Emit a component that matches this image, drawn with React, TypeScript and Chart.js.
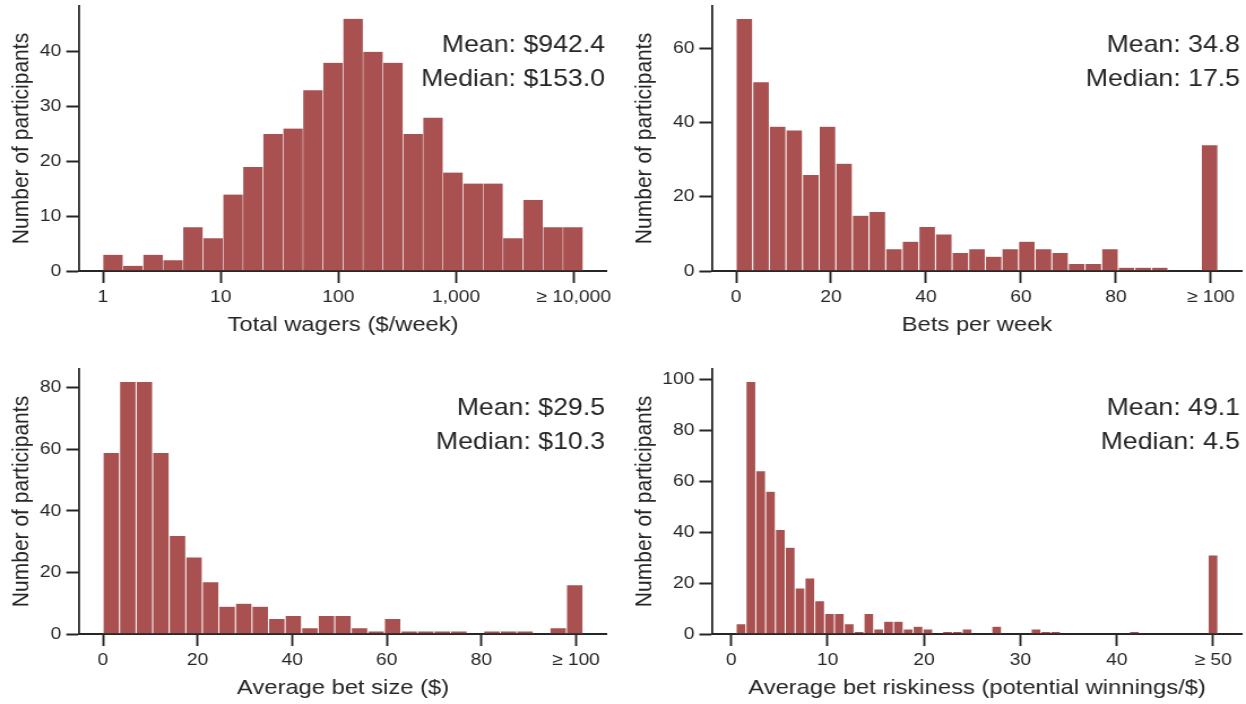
import React, { useEffect, useRef } from 'react';
import { Chart, registerables } from 'chart.js';

Chart.register(...registerables);

// ---------- data ----------
// Panel A: total wagers, bins in log10($/week)
const wagerCounts = [3, 1, 3, 2, 8, 6, 14, 19, 25, 26, 33, 38, 46, 40, 38, 25, 28, 18, 16, 16, 6, 13, 8, 8];
const wagerBinRange = [0, 4.0792];
const wagerXTicks = [0, 1, 2, 3, 4];
const wagerXLabels = ['1', '10', '100', '1,000', '≥ 10,000'];
const wagerYTicks = [0, 10, 20, 30, 40];

// Panel B: bets per week
const betsCounts = [68, 51, 39, 38, 26, 39, 29, 15, 16, 6, 8, 12, 10, 5, 6, 4, 6, 8, 6, 5, 2, 2, 6, 1, 1, 1, 0, 0, 34];
const betsBinRange = [0, 101.5];
const betsXTicks = [0, 20, 40, 60, 80, 100];
const betsXLabels = ['0', '20', '40', '60', '80', '≥ 100'];
const betsYTicks = [0, 20, 40, 60];

// Panel C: average bet size ($)
const sizeCounts = [59, 82, 82, 59, 32, 25, 17, 9, 10, 9, 5, 6, 2, 6, 6, 2, 1, 5, 1, 1, 1, 1, 0, 1, 1, 1, 0, 2, 16];
const sizeBinRange = [0, 101.5];
const sizeXTicks = [0, 20, 40, 60, 80, 100];
const sizeXLabels = ['0', '20', '40', '60', '80', '≥ 100'];
const sizeYTicks = [0, 20, 40, 60, 80];

// Panel D: average bet riskiness
const riskCounts = [4, 99, 64, 56, 41, 34, 18, 22, 13, 8, 8, 4, 1, 8, 2, 5, 5, 2, 3, 2, 0, 1, 1, 2, 0, 0, 3, 0, 0, 0, 2, 1, 1, 0, 0, 0, 0, 0, 0, 0, 1, 0, 0, 0, 0, 0, 0, 0, 31];
const riskBinRange = [0.5, 50.5];
const riskXTicks = [0, 10, 20, 30, 40, 50];
const riskXLabels = ['0', '10', '20', '30', '40', '≥ 50'];
const riskYTicks = [0, 20, 40, 60, 80, 100];

const statLines = {
  wager: ['Mean: $942.4', 'Median: $153.0'],
  bets: ['Mean: 34.8', 'Median: 17.5'],
  size: ['Mean: $29.5', 'Median: $10.3'],
  risk: ['Mean: 49.1', 'Median: 4.5'],
};

// ---------- style ----------
const STRETCH = 1.13;
const BAR = 'rgb(168, 81, 80)';
const INK = '#262626';
const FONT = '"Liberation Sans", Arial, Helvetica, sans-serif';
const TICK_SIZE = 17;
const TITLE_SIZE = 21;
const ANN_SIZE = 23.6;

type PanelProps = {
  counts: number[];
  binRange: number[];
  xTicks: number[];
  xLabels: string[];
  yTicks: number[];
  xTitle: string;
  lines: string[];
  box: { L: number; T: number; W: number; H: number };
  area: { left: number; right: number; top: number; bottom: number };
  titleMid: number;
  edge: number;
};

function Panel(p: PanelProps) {
  const ref = useRef<HTMLCanvasElement | null>(null);
  const cw = Math.round(p.box.W / STRETCH);
  const sx = p.box.W / cw;

  useEffect(() => {
    const canvas = ref.current;
    if (!canvas) return;
    const n = p.counts.length;
    const w = (p.binRange[1] - p.binRange[0]) / n;
    const span = p.binRange[1] - p.binRange[0];
    const xMin = p.binRange[0] - 0.05 * span;
    const xMax = p.binRange[1] + 0.05 * span;
    const yMax = 1.05 * Math.max(...p.counts);
    const data = p.counts.map((c, i) => ({ x: p.binRange[0] + (i + 0.5) * w, y: c }));

    const yW = (p.area.left - p.box.L) / sx;
    const xH = p.box.T + p.box.H - p.area.bottom;
    const padTop = p.area.top - p.box.T;
    const padRight = (p.box.L + p.box.W - p.area.right) / sx;
    const xTitlePad = p.box.T + p.box.H - p.titleMid - (TITLE_SIZE * 1.2) / 2;

    const annot = {
      id: 'annot',
      afterDraw(chart: any) {
        const { ctx, chartArea } = chart;
        ctx.save();
        ctx.font = `${ANN_SIZE}px ${FONT}`;
        ctx.fillStyle = INK;
        ctx.textAlign = 'right';
        ctx.textBaseline = 'alphabetic';
        const x = chartArea.right - 2 / sx;
        ctx.fillText(p.lines[0], x, chartArea.top + 45.5);
        ctx.fillText(p.lines[1], x, chartArea.top + 80);
        ctx.restore();
      },
    };

    const chart = new Chart(canvas, {
      type: 'bar',
      data: {
        datasets: [
          {
            data: data as any,
            backgroundColor: BAR,
            borderColor: '#ffffff',
            borderWidth: p.edge,
            borderSkipped: 'start',
            barPercentage: 1,
            categoryPercentage: 1,
            inflateAmount: 0,
          } as any,
        ],
      },
      options: {
        animation: false,
        responsive: false,
        maintainAspectRatio: false,
        devicePixelRatio: 1,
        events: [],
        layout: { padding: { left: 0, top: padTop, right: padRight, bottom: 0 } },
        plugins: { legend: { display: false }, tooltip: { enabled: false } },
        scales: {
          x: {
            type: 'linear',
            offset: false,
            min: xMin,
            max: xMax,
            afterBuildTicks: (scale: any) => {
              scale.ticks = p.xTicks.map((v) => ({ value: v }));
            },
            afterFit: (scale: any) => {
              scale.height = xH;
              scale.paddingLeft = 0;
              scale.paddingRight = 0;
            },
            ticks: {
              autoSkip: false,
              maxRotation: 0,
              minRotation: 0,
              padding: 4,
              color: INK,
              font: { family: FONT, size: TICK_SIZE },
              callback: (_v: any, i: number) => p.xLabels[i],
            },
            grid: {
              display: true,
              offset: false,
              drawOnChartArea: false,
              drawTicks: true,
              tickLength: 12,
              tickWidth: 1.9,
              tickColor: INK,
            },
            border: { display: true, color: INK, width: 2 },
            title: {
              display: true,
              text: p.xTitle,
              color: INK,
              font: { family: FONT, size: TITLE_SIZE },
              padding: { top: 0, bottom: xTitlePad },
            },
          },
          y: {
            type: 'linear',
            min: 0,
            max: yMax,
            afterBuildTicks: (scale: any) => {
              scale.ticks = p.yTicks.map((v) => ({ value: v }));
            },
            afterFit: (scale: any) => {
              scale.width = yW;
              scale.paddingTop = 0;
              scale.paddingBottom = 0;
            },
            ticks: {
              padding: 4.4,
              color: INK,
              font: { family: FONT, size: TICK_SIZE },
              callback: (v: any) => String(v),
            },
            grid: {
              display: true,
              drawOnChartArea: false,
              drawTicks: true,
              tickLength: 11.2,
              tickWidth: 2,
              tickColor: INK,
            },
            border: { display: true, color: INK, width: 1.8 },
            title: {
              display: true,
              text: 'Number of participants',
              color: INK,
              font: { family: FONT, size: TITLE_SIZE },
              padding: { top: 7, bottom: 0 },
            },
          },
        },
      },
      plugins: [annot],
    } as any);
    return () => chart.destroy();
  }, []);

  return (
    <canvas
      ref={ref}
      width={cw}
      height={p.box.H}
      style={{
        position: 'absolute',
        left: p.box.L,
        top: p.box.T,
        width: p.box.W,
        height: p.box.H,
        display: 'block',
      }}
    />
  );
}

export default function App() {
  return (
    <div
      style={{
        position: 'fixed',
        left: 0,
        top: 0,
        width: 1246,
        height: 704,
        overflow: 'hidden',
        background: '#ffffff',
      }}
    >
      <Panel
        counts={wagerCounts}
        binRange={wagerBinRange}
        xTicks={wagerXTicks}
        xLabels={wagerXLabels}
        yTicks={wagerYTicks}
        xTitle="Total wagers ($/week)"
        lines={statLines.wager}
        box={{ L: 0, T: 0, W: 623, H: 352 }}
        area={{ left: 79, right: 607, top: 6, bottom: 271 }}
        titleMid={325.7}
        edge={0.2}
      />
      <Panel
        counts={betsCounts}
        binRange={betsBinRange}
        xTicks={betsXTicks}
        xLabels={betsXLabels}
        yTicks={betsYTicks}
        xTitle="Bets per week"
        lines={statLines.bets}
        box={{ L: 623, T: 0, W: 623, H: 352 }}
        area={{ left: 712, right: 1242, top: 6, bottom: 271 }}
        titleMid={325.7}
        edge={0.5}
      />
      <Panel
        counts={sizeCounts}
        binRange={sizeBinRange}
        xTicks={sizeXTicks}
        xLabels={sizeXLabels}
        yTicks={sizeYTicks}
        xTitle="Average bet size ($)"
        lines={statLines.size}
        box={{ L: 0, T: 352, W: 623, H: 352 }}
        area={{ left: 79, right: 607, top: 369, bottom: 634 }}
        titleMid={688.7}
        edge={0.5}
      />
      <Panel
        counts={riskCounts}
        binRange={riskBinRange}
        xTicks={riskXTicks}
        xLabels={riskXLabels}
        yTicks={riskYTicks}
        xTitle="Average bet riskiness (potential winnings/$)"
        lines={statLines.risk}
        box={{ L: 623, T: 352, W: 623, H: 352 }}
        area={{ left: 712, right: 1242, top: 369, bottom: 634 }}
        titleMid={688.7}
        edge={0.5}
      />
    </div>
  );
}
